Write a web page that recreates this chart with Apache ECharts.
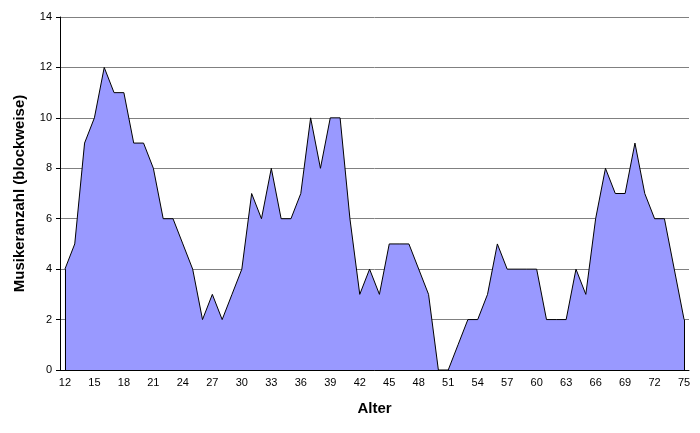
<!DOCTYPE html>
<html><head><meta charset="utf-8">
<script src="https://cdn.jsdelivr.net/npm/echarts@6/dist/echarts.min.js"></script>
<style>html,body{margin:0;padding:0;background:#fff}#c{width:700px;height:433px}</style>
</head><body><div id="c"></div>
<script>
var ages = [12,13,14,15,16,17,18,19,20,21,22,23,24,25,26,27,28,29,30,31,32,33,34,35,36,37,38,39,40,41,42,43,44,45,46,47,48,49,50,51,52,53,54,55,56,57,58,59,60,61,62,63,64,65,66,67,68,69,70,71,72,73,74,75];
var counts = [4,5,9,10,12,11,11,9,9,8,6,6,5,4,2,3,2,3,4,7,6,8,6,6,7,10,8,10,10,6,3,4,3,5,5,5,4,3,0,0,1,2,2,3,5,4,4,4,4,2,2,2,4,3,6,8,7,7,9,7,6,6,4,2];
var yTicks = [0,2,4,6,8,10,12,14];
var font = 'Liberation Sans, Arial, sans-serif';
var cats = ages.map(String);
var firstCat = cats[0], lastCat = cats[cats.length-1];
var chart = echarts.init(document.getElementById('c'));
chart.setOption({
  animation: false,
  grid: {left: 60, right: 11, top: 17, bottom: 63},
  xAxis: {
    type: 'category', data: cats, boundaryGap: true,
    name: 'Alter', nameLocation: 'middle', nameGap: 31,
    nameTextStyle: {fontFamily: font, fontSize: 15, fontWeight: 'bold', color: '#000'},
    axisLine: {lineStyle: {color: '#000', width: 1}},
    axisTick: {interval: 0, length: 4, lineStyle: {color: '#000'}},
    axisLabel: {interval: 2, fontFamily: font, fontSize: 11, color: '#000', margin: 7},
    splitLine: {show: false}
  },
  yAxis: {
    type: 'value', min: yTicks[0], max: yTicks[yTicks.length-1], interval: 2,
    name: 'Musikeranzahl (blockweise)', nameLocation: 'middle', nameGap: 33,
    nameTextStyle: {fontFamily: font, fontSize: 15, fontWeight: 'bold', color: '#000'},
    axisLine: {show: true, lineStyle: {color: '#000', width: 1}},
    axisTick: {show: true, length: 4, lineStyle: {color: '#000'}},
    axisLabel: {fontFamily: font, fontSize: 11, color: '#000', margin: 8},
    splitLine: {show: true, lineStyle: {color: '#808080', width: 1}}
  },
  series: [{
    type: 'line', data: counts, symbol: 'none',
    lineStyle: {color: '#000', width: 1},
    areaStyle: {color: '#9999FF', opacity: 1},
    markLine: {
      silent: true, symbol: ['none','none'], label: {show: false},
      lineStyle: {color: '#000', width: 1, type: 'solid'},
      data: [
        [{coord: [firstCat, 0]}, {coord: [firstCat, counts[0]]}],
        [{coord: [lastCat, 0]}, {coord: [lastCat, counts[counts.length-1]]}]
      ]
    }
  }]
});
</script></body></html>
